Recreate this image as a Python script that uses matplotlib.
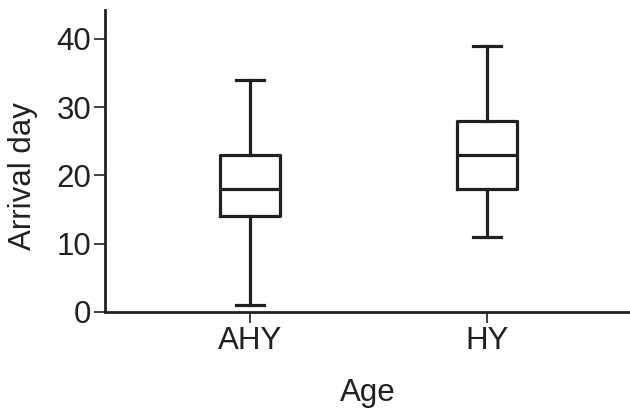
import matplotlib
matplotlib.use("Agg")
import matplotlib.pyplot as plt

# Box plot summary values
groups = ["AHY", "HY"]
whislo = [1, 11]
q1 = [14, 18]
med = [18, 23]
q3 = [23, 28]
whishi = [34, 39]

ink = "#231f20"
plt.rcParams["font.family"] = ["Liberation Sans", "DejaVu Sans"]

fig = plt.figure(figsize=(6.3, 4.08), dpi=100)
ax = fig.add_axes([0.1667, 0.2353, 0.8333, 0.740])

stats = []
for i, g in enumerate(groups):
    stats.append({"label": g, "whislo": whislo[i], "q1": q1[i], "med": med[i],
                  "q3": q3[i], "whishi": whishi[i], "fliers": []})

line = dict(color=ink, linewidth=2.3)
ax.bxp(stats, positions=[1, 2], widths=0.25, capwidths=0.12, showfliers=False,
       boxprops=line, whiskerprops=line, capprops=line, medianprops=line)

ax.set_xlim(0.388, 2.603)
ax.set_ylim(0, 44.2)
ax.set_yticks([0, 10, 20, 30, 40])

for side in ["top", "right"]:
    ax.spines[side].set_visible(False)
for side in ["left", "bottom"]:
    ax.spines[side].set_linewidth(2.0)
    ax.spines[side].set_color(ink)

ax.tick_params(axis="both", direction="out", length=8, width=1.2, colors=ink,
               labelsize=22.5, labelcolor=ink, pad=2)
ax.set_xlabel("Age", fontsize=22.5, color=ink, labelpad=16)
ax.set_ylabel("Arrival day", fontsize=22.5, color=ink, labelpad=8)
ax.yaxis.set_label_coords(-0.128, 0.45)

fig.savefig("out.png", dpi=100)
